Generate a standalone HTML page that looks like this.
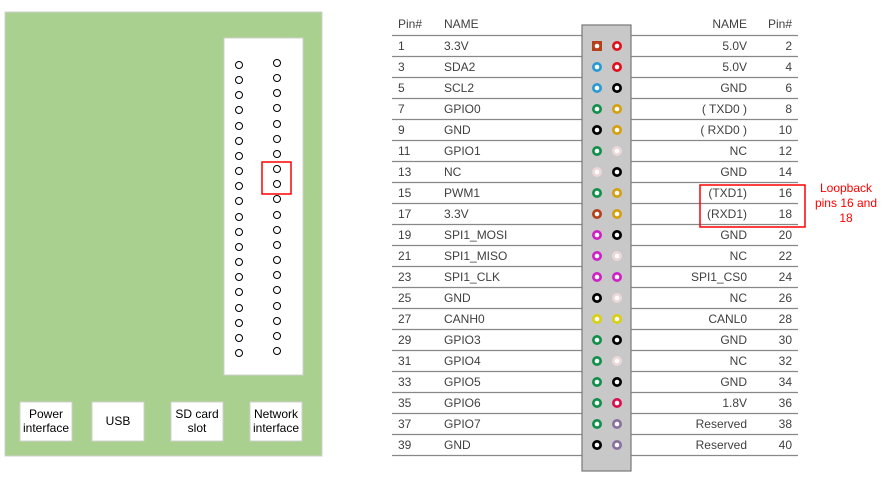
<!DOCTYPE html>
<html><head><meta charset="utf-8"><style>
html,body{margin:0;padding:0;background:#fff;width:890px;height:478px;overflow:hidden}
svg{display:block}
.t{font-family:"Liberation Sans",sans-serif;font-size:12px;fill:#404040}
.b{font-family:"Liberation Sans",sans-serif;font-size:12px;fill:#000}
</style></head><body>
<svg width="890" height="478" viewBox="0 0 890 478" xmlns="http://www.w3.org/2000/svg">
<!-- board -->
<rect x="5" y="12" width="317" height="444" fill="#a9d08e" stroke="#d0d0d0" stroke-width="1"/>
<rect x="224" y="38" width="79" height="337" fill="#fff" stroke="#d0d0d0"/>
<g fill="none" stroke="#000" stroke-width="1">
<circle cx="239" cy="65" r="3.5"/><circle cx="277" cy="63" r="3.5"/>
<circle cx="239" cy="80" r="3.5"/><circle cx="277" cy="78" r="3.5"/>
<circle cx="239" cy="95" r="3.5"/><circle cx="277" cy="93" r="3.5"/>
<circle cx="239" cy="110" r="3.5"/><circle cx="277" cy="108" r="3.5"/>
<circle cx="239" cy="126" r="3.5"/><circle cx="277" cy="124" r="3.5"/>
<circle cx="239" cy="141" r="3.5"/><circle cx="277" cy="139" r="3.5"/>
<circle cx="239" cy="156" r="3.5"/><circle cx="277" cy="154" r="3.5"/>
<circle cx="239" cy="171" r="3.5"/><circle cx="277" cy="169" r="3.5"/>
<circle cx="239" cy="186" r="3.5"/><circle cx="277" cy="184" r="3.5"/>
<circle cx="239" cy="201" r="3.5"/><circle cx="277" cy="199" r="3.5"/>
<circle cx="239" cy="217" r="3.5"/><circle cx="277" cy="215" r="3.5"/>
<circle cx="239" cy="232" r="3.5"/><circle cx="277" cy="230" r="3.5"/>
<circle cx="239" cy="247" r="3.5"/><circle cx="277" cy="245" r="3.5"/>
<circle cx="239" cy="262" r="3.5"/><circle cx="277" cy="260" r="3.5"/>
<circle cx="239" cy="277" r="3.5"/><circle cx="277" cy="275" r="3.5"/>
<circle cx="239" cy="292" r="3.5"/><circle cx="277" cy="290" r="3.5"/>
<circle cx="239" cy="308" r="3.5"/><circle cx="277" cy="306" r="3.5"/>
<circle cx="239" cy="323" r="3.5"/><circle cx="277" cy="321" r="3.5"/>
<circle cx="239" cy="338" r="3.5"/><circle cx="277" cy="336" r="3.5"/>
<circle cx="239" cy="353" r="3.5"/><circle cx="277" cy="351" r="3.5"/>
</g>
<rect x="262" y="162" width="29" height="32" fill="none" stroke="#ff0000" stroke-width="1.5"/>
<g fill="#fff" stroke="#d0d0d0">
<rect x="20" y="402" width="52" height="39"/>
<rect x="92" y="402" width="52" height="39"/>
<rect x="171" y="402" width="52" height="39"/>
<rect x="250" y="402" width="52" height="39"/>
</g>
<g class="b" text-anchor="middle">
<text x="46" y="418">Power</text><text x="46" y="432">interface</text>
<text x="118" y="425">USB</text>
<text x="197" y="418">SD card</text><text x="197" y="432">slot</text>
<text x="276" y="418">Network</text><text x="276" y="432">interface</text>
</g>

<!-- table lines -->
<g stroke="#888" stroke-width="1.2">
<line x1="392" y1="35.5" x2="583" y2="35.5"/><line x1="631" y1="35.5" x2="798" y2="35.5"/>
<line x1="392" y1="56.5" x2="583" y2="56.5"/><line x1="631" y1="56.5" x2="798" y2="56.5"/>
<line x1="392" y1="77.5" x2="583" y2="77.5"/><line x1="631" y1="77.5" x2="798" y2="77.5"/>
<line x1="392" y1="98.5" x2="583" y2="98.5"/><line x1="631" y1="98.5" x2="798" y2="98.5"/>
<line x1="392" y1="119.5" x2="583" y2="119.5"/><line x1="631" y1="119.5" x2="798" y2="119.5"/>
<line x1="392" y1="140.5" x2="583" y2="140.5"/><line x1="631" y1="140.5" x2="798" y2="140.5"/>
<line x1="392" y1="161.5" x2="583" y2="161.5"/><line x1="631" y1="161.5" x2="798" y2="161.5"/>
<line x1="392" y1="182.5" x2="583" y2="182.5"/><line x1="631" y1="182.5" x2="798" y2="182.5"/>
<line x1="392" y1="203.5" x2="583" y2="203.5"/><line x1="631" y1="203.5" x2="798" y2="203.5"/>
<line x1="392" y1="224.5" x2="583" y2="224.5"/><line x1="631" y1="224.5" x2="798" y2="224.5"/>
<line x1="392" y1="245.5" x2="583" y2="245.5"/><line x1="631" y1="245.5" x2="798" y2="245.5"/>
<line x1="392" y1="266.5" x2="583" y2="266.5"/><line x1="631" y1="266.5" x2="798" y2="266.5"/>
<line x1="392" y1="287.5" x2="583" y2="287.5"/><line x1="631" y1="287.5" x2="798" y2="287.5"/>
<line x1="392" y1="308.5" x2="583" y2="308.5"/><line x1="631" y1="308.5" x2="798" y2="308.5"/>
<line x1="392" y1="329.5" x2="583" y2="329.5"/><line x1="631" y1="329.5" x2="798" y2="329.5"/>
<line x1="392" y1="350.5" x2="583" y2="350.5"/><line x1="631" y1="350.5" x2="798" y2="350.5"/>
<line x1="392" y1="371.5" x2="583" y2="371.5"/><line x1="631" y1="371.5" x2="798" y2="371.5"/>
<line x1="392" y1="392.5" x2="583" y2="392.5"/><line x1="631" y1="392.5" x2="798" y2="392.5"/>
<line x1="392" y1="413.5" x2="583" y2="413.5"/><line x1="631" y1="413.5" x2="798" y2="413.5"/>
<line x1="392" y1="434.5" x2="583" y2="434.5"/><line x1="631" y1="434.5" x2="798" y2="434.5"/>
<line x1="392" y1="455.5" x2="583" y2="455.5"/><line x1="631" y1="455.5" x2="798" y2="455.5"/>
</g>

<!-- header -->
<g class="t">
<text x="398" y="28">Pin#</text><text x="444" y="28">NAME</text>
<text x="747" y="28" text-anchor="end">NAME</text><text x="792" y="28" text-anchor="end">Pin#</text>
</g>
<!-- left column -->
<g class="t">
<text x="398" y="50">1</text><text x="444" y="50">3.3V</text>
<text x="398" y="71">3</text><text x="444" y="71">SDA2</text>
<text x="398" y="92">5</text><text x="444" y="92">SCL2</text>
<text x="398" y="113">7</text><text x="444" y="113">GPIO0</text>
<text x="398" y="134">9</text><text x="444" y="134">GND</text>
<text x="398" y="155">11</text><text x="444" y="155">GPIO1</text>
<text x="398" y="176">13</text><text x="444" y="176">NC</text>
<text x="398" y="197">15</text><text x="444" y="197">PWM1</text>
<text x="398" y="218">17</text><text x="444" y="218">3.3V</text>
<text x="398" y="239">19</text><text x="444" y="239">SPI1_MOSI</text>
<text x="398" y="260">21</text><text x="444" y="260">SPI1_MISO</text>
<text x="398" y="281">23</text><text x="444" y="281">SPI1_CLK</text>
<text x="398" y="302">25</text><text x="444" y="302">GND</text>
<text x="398" y="323">27</text><text x="444" y="323">CANH0</text>
<text x="398" y="344">29</text><text x="444" y="344">GPIO3</text>
<text x="398" y="365">31</text><text x="444" y="365">GPIO4</text>
<text x="398" y="386">33</text><text x="444" y="386">GPIO5</text>
<text x="398" y="407">35</text><text x="444" y="407">GPIO6</text>
<text x="398" y="428">37</text><text x="444" y="428">GPIO7</text>
<text x="398" y="449">39</text><text x="444" y="449">GND</text>
</g>
<!-- right column -->
<g class="t" text-anchor="end">
<text x="747" y="50">5.0V</text><text x="792" y="50">2</text>
<text x="747" y="71">5.0V</text><text x="792" y="71">4</text>
<text x="747" y="92">GND</text><text x="792" y="92">6</text>
<text x="747" y="113">( TXD0 )</text><text x="792" y="113">8</text>
<text x="747" y="134">( RXD0 )</text><text x="792" y="134">10</text>
<text x="747" y="155">NC</text><text x="792" y="155">12</text>
<text x="747" y="176">GND</text><text x="792" y="176">14</text>
<text x="747" y="197">(TXD1)</text><text x="792" y="197">16</text>
<text x="747" y="218">(RXD1)</text><text x="792" y="218">18</text>
<text x="747" y="239">GND</text><text x="792" y="239">20</text>
<text x="747" y="260">NC</text><text x="792" y="260">22</text>
<text x="747" y="281">SPI1_CS0</text><text x="792" y="281">24</text>
<text x="747" y="302">NC</text><text x="792" y="302">26</text>
<text x="747" y="323">CANL0</text><text x="792" y="323">28</text>
<text x="747" y="344">GND</text><text x="792" y="344">30</text>
<text x="747" y="365">NC</text><text x="792" y="365">32</text>
<text x="747" y="386">GND</text><text x="792" y="386">34</text>
<text x="747" y="407">1.8V</text><text x="792" y="407">36</text>
<text x="747" y="428">Reserved</text><text x="792" y="428">38</text>
<text x="747" y="449">Reserved</text><text x="792" y="449">40</text>
</g>

<!-- connector -->
<rect x="582" y="25" width="49" height="446" fill="#c8c8c8" stroke="#777" stroke-width="1.2"/>
<g>
<rect x="592" y="41" width="10" height="10" fill="#b5401a"/>
<circle cx="617" cy="46" r="5" fill="#e0101e"/>
<circle cx="597" cy="67" r="5" fill="#2a9ad4"/><circle cx="617" cy="67" r="5" fill="#e0101e"/>
<circle cx="597" cy="88" r="5" fill="#2a9ad4"/><circle cx="617" cy="88" r="5" fill="#000"/>
<circle cx="597" cy="109" r="5" fill="#10904a"/><circle cx="617" cy="109" r="5" fill="#d4a010"/>
<circle cx="597" cy="130" r="5" fill="#000"/><circle cx="617" cy="130" r="5" fill="#d4a010"/>
<circle cx="597" cy="151" r="5" fill="#10904a"/><circle cx="617" cy="151" r="5" fill="#ecd8d8"/>
<circle cx="597" cy="172" r="5" fill="#ecd8d8"/><circle cx="617" cy="172" r="5" fill="#000"/>
<circle cx="597" cy="193" r="5" fill="#10904a"/><circle cx="617" cy="193" r="5" fill="#d4a010"/>
<circle cx="597" cy="214" r="5" fill="#b5401a"/><circle cx="617" cy="214" r="5" fill="#d4a010"/>
<circle cx="597" cy="235" r="5" fill="#d020c8"/><circle cx="617" cy="235" r="5" fill="#000"/>
<circle cx="597" cy="256" r="5" fill="#d020c8"/><circle cx="617" cy="256" r="5" fill="#ecd8d8"/>
<circle cx="597" cy="277" r="5" fill="#d020c8"/><circle cx="617" cy="277" r="5" fill="#d020c8"/>
<circle cx="597" cy="298" r="5" fill="#000"/><circle cx="617" cy="298" r="5" fill="#ecd8d8"/>
<circle cx="597" cy="319" r="5" fill="#d8d010"/><circle cx="617" cy="319" r="5" fill="#d8d010"/>
<circle cx="597" cy="340" r="5" fill="#10904a"/><circle cx="617" cy="340" r="5" fill="#000"/>
<circle cx="597" cy="361" r="5" fill="#10904a"/><circle cx="617" cy="361" r="5" fill="#ecd8d8"/>
<circle cx="597" cy="382" r="5" fill="#10904a"/><circle cx="617" cy="382" r="5" fill="#000"/>
<circle cx="597" cy="403" r="5" fill="#10904a"/><circle cx="617" cy="403" r="5" fill="#d81050"/>
<circle cx="597" cy="424" r="5" fill="#10904a"/><circle cx="617" cy="424" r="5" fill="#8a70a0"/>
<circle cx="597" cy="445" r="5" fill="#000"/><circle cx="617" cy="445" r="5" fill="#8a70a0"/>
</g>
<g fill="#fff">
<circle cx="597" cy="46" r="2.3"/><circle cx="617" cy="46" r="2.3"/>
<circle cx="597" cy="67" r="2.3"/><circle cx="617" cy="67" r="2.3"/>
<circle cx="597" cy="88" r="2.3"/><circle cx="617" cy="88" r="2.3"/>
<circle cx="597" cy="109" r="2.3"/><circle cx="617" cy="109" r="2.3"/>
<circle cx="597" cy="130" r="2.3"/><circle cx="617" cy="130" r="2.3"/>
<circle cx="597" cy="151" r="2.3"/><circle cx="617" cy="151" r="2.3"/>
<circle cx="597" cy="172" r="2.3"/><circle cx="617" cy="172" r="2.3"/>
<circle cx="597" cy="193" r="2.3"/><circle cx="617" cy="193" r="2.3"/>
<circle cx="597" cy="214" r="2.3"/><circle cx="617" cy="214" r="2.3"/>
<circle cx="597" cy="235" r="2.3"/><circle cx="617" cy="235" r="2.3"/>
<circle cx="597" cy="256" r="2.3"/><circle cx="617" cy="256" r="2.3"/>
<circle cx="597" cy="277" r="2.3"/><circle cx="617" cy="277" r="2.3"/>
<circle cx="597" cy="298" r="2.3"/><circle cx="617" cy="298" r="2.3"/>
<circle cx="597" cy="319" r="2.3"/><circle cx="617" cy="319" r="2.3"/>
<circle cx="597" cy="340" r="2.3"/><circle cx="617" cy="340" r="2.3"/>
<circle cx="597" cy="361" r="2.3"/><circle cx="617" cy="361" r="2.3"/>
<circle cx="597" cy="382" r="2.3"/><circle cx="617" cy="382" r="2.3"/>
<circle cx="597" cy="403" r="2.3"/><circle cx="617" cy="403" r="2.3"/>
<circle cx="597" cy="424" r="2.3"/><circle cx="617" cy="424" r="2.3"/>
<circle cx="597" cy="445" r="2.3"/><circle cx="617" cy="445" r="2.3"/>
</g>

<!-- loopback annotation -->
<rect x="700" y="185" width="105" height="42" fill="none" stroke="#ff0000" stroke-width="1.5"/>
<g font-family="Liberation Sans, sans-serif" font-size="12" fill="#ff0000" text-anchor="middle">
<text x="846" y="192">Loopback</text>
<text x="846" y="207">pins 16 and</text>
<text x="846" y="222">18</text>
</g>
</svg>
</body></html>
